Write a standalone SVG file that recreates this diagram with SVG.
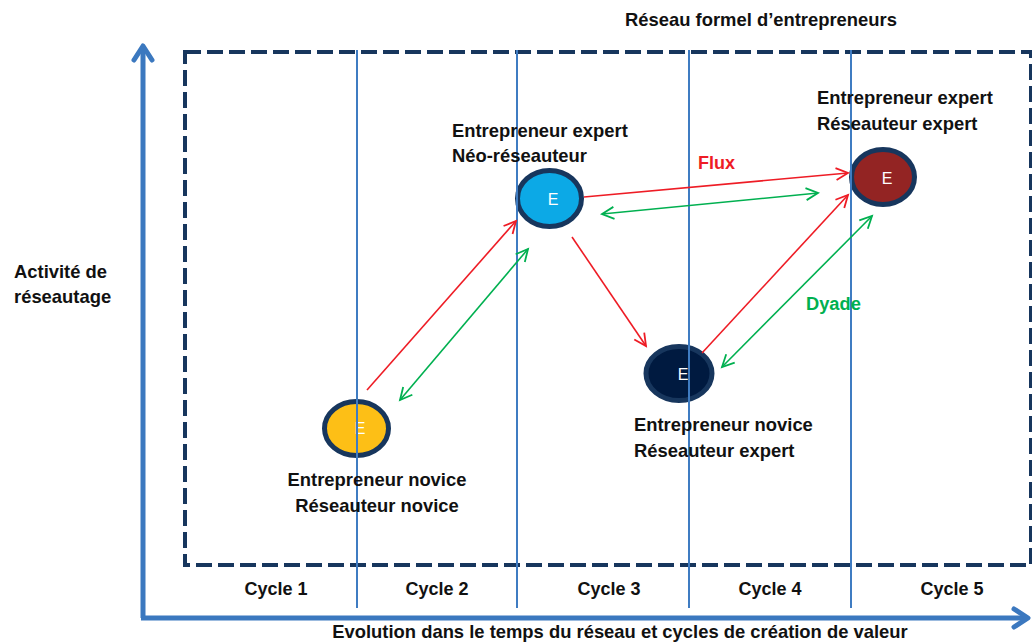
<svg xmlns="http://www.w3.org/2000/svg" width="1032" height="644" viewBox="0 0 1032 644">
<style>
text{font-family:"Liberation Sans",Arial,sans-serif;font-weight:bold;font-size:18.4px;fill:#111}
.e{font-weight:normal;font-size:16px;fill:#fff;text-anchor:middle}
.grid{stroke:#3F7CC2;stroke-width:2}
.axis{stroke:#3B78BF;stroke-width:5;fill:none}
.red{stroke:#EE1C25;stroke-width:1.6;fill:none}
.green{stroke:#00B050;stroke-width:1.6;fill:none}
.node{stroke:#17365D;stroke-width:5}
.cyc{text-anchor:middle;font-size:18px}
</style>
<defs>
<marker id="ar" markerUnits="userSpaceOnUse" markerWidth="16" markerHeight="16" refX="13" refY="7" orient="auto-start-reverse" viewBox="0 0 16 14">
<path d="M1,1 L13,7 L1,13" fill="none" stroke="#EE1C25" stroke-width="1.8"/>
</marker>
<marker id="ag" markerUnits="userSpaceOnUse" markerWidth="16" markerHeight="16" refX="13" refY="7" orient="auto-start-reverse" viewBox="0 0 16 14">
<path d="M1,1 L13,7 L1,13" fill="none" stroke="#00B050" stroke-width="1.8"/>
</marker>
<marker id="ax" markerUnits="userSpaceOnUse" markerWidth="24" markerHeight="24" refX="18" refY="12" orient="auto" viewBox="0 0 24 24">
<path d="M4,3 L18,12 L4,21" fill="none" stroke="#3B78BF" stroke-width="5" stroke-linecap="round" stroke-linejoin="round"/>
</marker>
</defs>
<rect width="1032" height="644" fill="#fff"/>
<g id="frame">
<rect x="185" y="52" width="846" height="513" fill="none" stroke="#17365D" stroke-width="4" stroke-dasharray="16 6"/>
</g>
<g id="axes">
<path class="axis" d="M143,618 L143,46" marker-end="url(#ax)"/>
<path class="axis" d="M141,618 L1028,618" marker-end="url(#ax)"/>
</g>
<g id="n1"><ellipse class="node" cx="356.5" cy="428.5" rx="32" ry="27" fill="#FDBF16"/><text class="e" x="360" y="434">E</text></g>
<g id="n2"><ellipse class="node" cx="549.5" cy="198.5" rx="32" ry="28" fill="#0CA9E6"/><text class="e" x="553" y="205">E</text></g>
<g id="n3"><ellipse class="node" cx="679" cy="373.5" rx="33" ry="27" fill="#001A40" stroke="#152F55"/><text class="e" x="683" y="380">E</text></g>
<g id="n4"><ellipse class="node" cx="883" cy="177" rx="31.5" ry="27.5" fill="#932423"/><text class="e" x="887" y="184">E</text></g>
<g id="grid">
<line class="grid" x1="357" y1="50" x2="357" y2="608"/>
<line class="grid" x1="517" y1="50" x2="517" y2="608"/>
<line class="grid" x1="689" y1="50" x2="689" y2="608"/>
<line class="grid" x1="851" y1="50" x2="851" y2="608"/>
</g>
<g id="connectors">
<line class="red" x1="367" y1="390" x2="516" y2="221" marker-end="url(#ar)"/>
<line class="green" x1="400" y1="400" x2="528" y2="249" marker-start="url(#ag)" marker-end="url(#ag)"/>
<line class="red" x1="572" y1="237" x2="646" y2="346" marker-end="url(#ar)"/>
<line class="red" x1="584" y1="197" x2="848" y2="173" marker-end="url(#ar)"/>
<line class="green" x1="602" y1="214" x2="818" y2="193" marker-start="url(#ag)" marker-end="url(#ag)"/>
<line class="red" x1="702" y1="353" x2="848" y2="195" marker-end="url(#ar)"/>
<line class="green" x1="722" y1="367" x2="872" y2="216" marker-start="url(#ag)" marker-end="url(#ag)"/>
</g>
<g id="labels">
<text x="761" y="26" text-anchor="middle" font-size="17.7">Réseau formel d’entrepreneurs</text>
<text x="377" y="486" text-anchor="middle">Entrepreneur novice</text>
<text x="377" y="512" text-anchor="middle">Réseauteur novice</text>
<text x="452" y="137">Entrepreneur expert</text>
<text x="452" y="162">Néo-réseauteur</text>
<text x="634" y="431">Entrepreneur novice</text>
<text x="634" y="457">Réseauteur expert</text>
<text x="817" y="104">Entrepreneur expert</text>
<text x="817" y="130">Réseauteur expert</text>
<text x="14" y="278">Activité de</text>
<text x="14" y="303">réseautage</text>
<text x="698" y="169" style="fill:#EE1C25;font-size:18px">Flux</text>
<text x="806" y="310" style="fill:#00B050;font-size:18.3px">Dyade</text>
<text class="cyc" x="276" y="595">Cycle 1</text>
<text class="cyc" x="437" y="595">Cycle 2</text>
<text class="cyc" x="609" y="595">Cycle 3</text>
<text class="cyc" x="770" y="595">Cycle 4</text>
<text class="cyc" x="952" y="595">Cycle 5</text>
<text x="620" y="638" text-anchor="middle">Evolution dans le temps du réseau et cycles de création de valeur</text>
</g>
</svg>
